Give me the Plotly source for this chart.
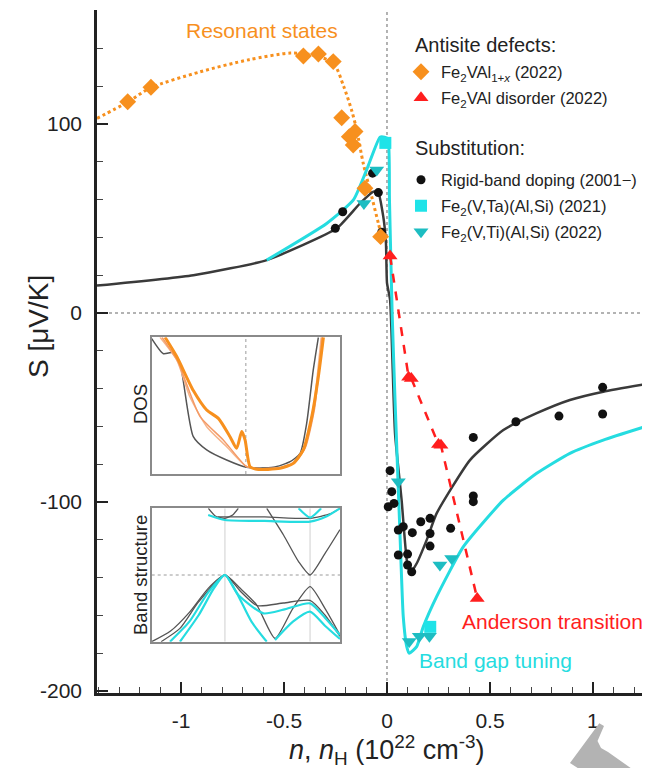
import plotly.graph_objects as go

FONT = "Liberation Sans, Arial, sans-serif"
ORANGE = "#F7901E"
RED = "#FF1E1E"
CYAN = "#1FE3E8"
CYAN_LINE = "#25DCE0"
TEAL = "#1DBDC2"
BLACK = "#111111"

# ---------------- data ----------------
# Fe2VAl1+x (2022)
orange_x = [-1.259, -1.146, -0.406, -0.333, -0.261, -0.220, -0.183, -0.164, -0.155, -0.107, -0.031]
orange_y = [111.8, 119.4, 136.0, 137.0, 133.0, 103.3, 93.3, 88.9, 96.0, 66.0, 40.4]
# resonant-states guide line
res_x = [-1.408, -1.26, -1.15, -0.91, -0.67, -0.47, -0.36, -0.26, -0.21, -0.171, -0.147, -0.115, -0.074, -0.042, -0.026]
res_y = [103.0, 111.5, 119.0, 127.5, 134.0, 137.5, 136.5, 132.0, 119.8, 107.0, 96.8, 79.0, 61.5, 47.5, 40.4]

# Fe2VAl disorder (2022)
red_x = [0.015, 0.105, 0.118, 0.250, 0.262, 0.438]
red_y = [30.2, -34.0, -34.6, -69.5, -70.0, -151.0]

# Rigid-band doping (2001-)
black_x = [-0.251, -0.215, -0.070, -0.042, -0.026,
           0.015, 0.023, 0.006, 0.034, 0.079, 0.123, 0.055, 0.055, 0.100, 0.100, 0.120,
           0.164, 0.209, 0.209, 0.209, 0.309, 0.419, 0.419, 0.419, 0.626, 0.835, 1.047, 1.047]
black_y = [44.8, 53.6, 74.0, 63.7, 42.7,
           -83.4, -94.5, -102.5, -100.7, -113.0, -116.2, -114.8, -128.0, -127.5, -133.3, -136.9,
           -110.4, -108.6, -116.6, -123.3, -113.9, -65.8, -96.8, -99.8, -57.5, -54.5, -39.3, -53.4]
# rigid-band model curve
rb_x = [-1.408, -0.94, -0.584, -0.244, -0.131, -0.066, -0.044, -0.018, -0.005, 0.0, 0.015, 0.039,
        0.071, 0.096, 0.112, 0.144, 0.193, 0.241, 0.403, 0.565, 0.727, 0.888, 1.05, 1.277]
rb_y = [14.5, 20.0, 28.0, 44.8, 58.0, 64.2, 64.2, 51.0, 37.0, 16.0, 6.9, -63.5,
        -99.0, -130.7, -137.6, -132.5, -120.0, -106.0, -77.8, -61.9, -53.0, -46.0, -41.6, -37.2]

# Fe2(V,Ta)(Al,Si) (2021)
sq_x = [-0.008, 0.210]
sq_y = [90.0, -166.0]
# Fe2(V,Ti)(Al,Si) (2022)
tri_x = [-0.050, -0.112, 0.055, 0.257, 0.314, 0.108, 0.157, 0.206]
tri_y = [75.7, 58.0, -89.2, -133.3, -129.8, -173.8, -171.0, -171.0]
# band-gap tuning curve
bg_x = [-0.584, -0.293, -0.163, -0.099, -0.034, -0.012, 0.005, 0.012, 0.025, 0.039, 0.063, 0.079,
        0.096, 0.108, 0.144, 0.176, 0.241, 0.371, 0.565, 0.727, 0.888, 1.05, 1.277]
bg_y = [28.0, 47.4, 59.8, 75.7, 93.0, 93.0, 92.0, 60.0, 0.0, -46.0, -116.6, -160.6,
        -176.5, -180.0, -176.5, -166.0, -150.0, -123.6, -99.0, -84.8, -74.2, -67.2, -59.3]

# inset: DOS (arbitrary units 0..1)
dos_black_x = [0, 0.062, 0.115, 0.15, 0.221, 0.292, 0.398, 0.504, 0.646, 0.735, 0.788, 0.823, 0.858, 0.885]
dos_black_y = [0.99, 0.88, 0.89, 0.81, 0.273, 0.176, 0.102, 0.049, 0.049, 0.09, 0.151, 0.371, 0.761, 1.0]
dos_l1_x = [0.044, 0.133, 0.204, 0.292, 0.398, 0.504, 0.56, 0.68, 0.76, 0.81, 0.86, 0.9]
dos_l1_y = [1.0, 0.834, 0.561, 0.346, 0.2, 0.054, 0.04, 0.045, 0.09, 0.2, 0.5, 1.0]
dos_l2_x = [0.055, 0.14, 0.177, 0.257, 0.38, 0.504, 0.56, 0.68, 0.76, 0.815, 0.865, 0.905]
dos_l2_y = [1.0, 0.82, 0.688, 0.42, 0.249, 0.054, 0.04, 0.045, 0.085, 0.19, 0.48, 1.0]
dos_or_x = [0.071, 0.133, 0.221, 0.292, 0.354, 0.416, 0.451, 0.478, 0.496, 0.522, 0.558, 0.681, 0.752, 0.805, 0.85, 0.885, 0.912]
dos_or_y = [1.0, 0.859, 0.61, 0.468, 0.407, 0.273, 0.188, 0.31, 0.249, 0.054, 0.034, 0.041, 0.078, 0.176, 0.42, 0.712, 1.0]

# inset: band structure (arbitrary units 0..1)
bs_black = [
    ([0, 0.1, 0.2, 0.3, 0.389, 0.47, 0.558, 0.655, 0.75, 0.841, 0.92, 1.0],
     [0, 0.08, 0.22, 0.4, 0.5, 0.4, 0.275, 0.025, 0.25, 0.4125, 0.25, 0.05]),
    ([0.05, 0.15, 0.25, 0.389, 0.47, 0.56, 0.7, 0.841, 0.92, 1.0],
     [0, 0.1, 0.3, 0.5, 0.38, 0.27, 0.29, 0.31, 0.2, 0.04]),
    ([0.611, 0.7, 0.78, 0.841, 0.92, 1.0],
     [1.0, 0.8, 0.6, 0.5, 0.66, 0.84]),
    ([0.301, 0.34, 0.389, 0.43, 0.46],
     [1.0, 0.94, 0.925, 0.95, 1.0]),
    ([0.35, 0.6, 0.841, 0.95, 1.0],
     [0.935, 0.935, 0.925, 0.96, 1.0]),
]
bs_cyan = [
    ([0.097, 0.2, 0.3, 0.389, 0.45, 0.53, 0.611],
     [0, 0.15, 0.37, 0.5, 0.37, 0.15, 0]),
    ([0.15, 0.25, 0.33, 0.389, 0.46, 0.593, 0.7, 0.841, 0.92, 1.0],
     [0, 0.2, 0.4, 0.5, 0.35, 0.2125, 0.24, 0.2875, 0.18, 0.05]),
    ([0.655, 0.75, 0.841, 0.92, 1.0],
     [0.0125, 0.15, 0.225, 0.12, 0.02]),
    ([0.3, 0.389, 0.6, 0.841, 0.93, 1.0],
     [0.95, 0.9125, 0.905, 0.9, 0.94, 1.0]),
    ([0.78, 0.841, 0.9],
     [1.0, 0.93, 1.0]),
]

# ---------------- figure ----------------
# the page body has an 8 px margin; the figure is sized so the plot lands at
# page pixels x 97..650, y 10..693
BODY = 8
W, H = 650 - BODY, 776 - 2 * BODY
PL, PT, PR, PB = 97, 10, 650, 693          # plot box in page pixels
ML, MT = PL - BODY, PT - BODY
MR = W - (PR - BODY)
MB = H - (PB - BODY)
PW, PH = PR - PL, PB - PT


def px(xp):
    return (xp - PL) / PW


def py(yp):
    return (PB - yp) / PH


fig = go.Figure()

# guide curves
fig.add_trace(go.Scatter(x=res_x, y=res_y, mode="lines", showlegend=False,
                         line=dict(color=ORANGE, width=3, dash="dot", shape="spline", smoothing=0.8)))
fig.add_trace(go.Scatter(x=rb_x, y=rb_y, mode="lines", showlegend=False,
                         line=dict(color="#3a3a3a", width=2.5, shape="spline", smoothing=0.5)))
fig.add_trace(go.Scatter(x=bg_x, y=bg_y, mode="lines", showlegend=False,
                         line=dict(color=CYAN_LINE, width=3, shape="spline", smoothing=0.5)))
fig.add_trace(go.Scatter(x=red_x, y=red_y, mode="lines", showlegend=False,
                         line=dict(color=RED, width=2.5, dash="dash")))

# data markers
fig.add_trace(go.Scatter(x=black_x, y=black_y, mode="markers", name="Rigid-band doping (2001−)",
                         legend="legend3",
                         marker=dict(symbol="circle", size=9, color=BLACK)))
fig.add_trace(go.Scatter(x=orange_x, y=orange_y, mode="markers", name="Fe<sub>2</sub>VAl<sub>1+<i>x</i></sub> (2022)",
                         legend="legend",
                         marker=dict(symbol="diamond", size=13, color=ORANGE)))
fig.add_trace(go.Scatter(x=red_x, y=red_y, mode="markers", name="Fe<sub>2</sub>VAl disorder (2022)",
                         legend="legend2",
                         marker=dict(symbol="triangle-up", size=13, color=RED)))
fig.add_trace(go.Scatter(x=sq_x, y=sq_y, mode="markers", name="Fe<sub>2</sub>(V,Ta)(Al,Si) (2021)",
                         legend="legend4",
                         marker=dict(symbol="square", size=12, color=CYAN)))
fig.add_trace(go.Scatter(x=tri_x, y=tri_y, mode="markers", name="Fe<sub>2</sub>(V,Ti)(Al,Si) (2022)",
                         legend="legend5",
                         marker=dict(symbol="triangle-down", size=13, color=TEAL)))

# inset DOS
for xs, ys, col, wd in [(dos_black_x, dos_black_y, "#555555", 1.5),
                        (dos_l1_x, dos_l1_y, "#F6B48A", 1.5),
                        (dos_l2_x, dos_l2_y, "#F49A66", 1.5),
                        (dos_or_x, dos_or_y, ORANGE, 3)]:
    fig.add_trace(go.Scatter(x=xs, y=ys, xaxis="x3", yaxis="y3", mode="lines", showlegend=False,
                             line=dict(color=col, width=wd, shape="spline", smoothing=0.6)))
# inset band structure
for xs, ys in bs_black:
    fig.add_trace(go.Scatter(x=xs, y=ys, xaxis="x4", yaxis="y4", mode="lines", showlegend=False,
                             line=dict(color="#555555", width=1.3, shape="spline", smoothing=0.6)))
for xs, ys in bs_cyan:
    fig.add_trace(go.Scatter(x=xs, y=ys, xaxis="x4", yaxis="y4", mode="lines", showlegend=False,
                             line=dict(color=CYAN_LINE, width=2.2, shape="spline", smoothing=0.6)))

tickfont = dict(family=FONT, size=21, color="#222222")
inset_ax = dict(range=[0, 1], showgrid=False, zeroline=False, automargin=False,
                showticklabels=False, ticks="", showline=True, mirror=True,
                linecolor="#8a8a8a", linewidth=1.5)


def leg(yp):
    return dict(x=px(401), y=py(yp), xanchor="left", yanchor="middle", bgcolor="rgba(0,0,0,0)",
                font=dict(family=FONT, size=16.5, color="#222222"), itemwidth=30)


fig.update_layout(
    template="none",
    width=W, height=H, autosize=False,
    margin=dict(l=ML, r=MR, t=MT, b=MB, pad=0, autoexpand=False),
    paper_bgcolor="white", plot_bgcolor="white",
    font=dict(family=FONT, color="#222222"),
    xaxis=dict(range=[-1.408, 1.277], showgrid=False, zeroline=False, automargin=False,
               showline=True, linewidth=2.5, linecolor="#222222",
               tickmode="array", tickvals=[-1, -0.5, 0, 0.5, 1], ticktext=["-1", "-0.5", "0", "0.5", "1"],
               ticks="inside", ticklen=11, tickwidth=2, tickcolor="#222222",
               minor=dict(tickmode="linear", tick0=0, dtick=0.1, ticks="inside", ticklen=6,
                          tickwidth=1.3, tickcolor="#444444", showgrid=False),
               tickfont=tickfont, ticklabelstandoff=7),
    yaxis=dict(range=[-201, 160.3], showgrid=False, zeroline=False, automargin=False,
               showline=True, linewidth=2.5, linecolor="#222222",
               tickmode="array", tickvals=[-200, -100, 0, 100], ticktext=["-200", "-100", "0", "100"],
               ticks="inside", ticklen=11, tickwidth=2, tickcolor="#222222",
               minor=dict(tickmode="linear", tick0=0, dtick=20, ticks="inside", ticklen=6,
                          tickwidth=1.3, tickcolor="#444444", showgrid=False),
               tickfont=tickfont, ticklabelstandoff=8),
    xaxis3=dict(domain=[px(151.7), px(340)], anchor="y3", **inset_ax),
    yaxis3=dict(domain=[py(474), py(337.3)], anchor="x3", **inset_ax),
    xaxis4=dict(domain=[px(151.7), px(340)], anchor="y4", **inset_ax),
    yaxis4=dict(domain=[py(641.7), py(508.3)], anchor="x4", **inset_ax),
    legend=leg(72), legend2=leg(98), legend3=leg(180), legend4=leg(206), legend5=leg(232),
)

# legend group headers
for txt, yp in [("Antisite defects:", 45), ("Substitution:", 148)]:
    fig.add_annotation(x=px(413), y=py(yp), xref="paper", yref="paper", text=txt, showarrow=False,
                       font=dict(family=FONT, size=20, color="#222222"), xanchor="left", yanchor="middle")

# reference lines
fig.add_shape(type="line", xref="x", yref="paper", x0=0, x1=0, y0=0, y1=1, layer="below",
              line=dict(color="#9a9a9a", width=1.5, dash="dot"))
fig.add_shape(type="line", xref="paper", yref="y", x0=0, x1=1, y0=0, y1=0, layer="below",
              line=dict(color="#9a9a9a", width=1.5, dash="dot"))
# inset guide lines
fig.add_shape(type="line", xref="x3", yref="y3", x0=0.5, x1=0.5, y0=0, y1=1, layer="below",
              line=dict(color="#9a9a9a", width=1, dash="dot"))
for gx in (0.389, 0.841):
    fig.add_shape(type="line", xref="x4", yref="y4", x0=gx, x1=gx, y0=0, y1=1, layer="below",
                  line=dict(color="#cfcfcf", width=1))
fig.add_shape(type="line", xref="x4", yref="y4", x0=0, x1=1, y0=0.5, y1=0.5, layer="below",
              line=dict(color="#9a9a9a", width=1, dash="dot"))

# decorative grey arrow at bottom right
pts = [(599.3, 723.3), (604, 726), (597.5, 741), (601, 748), (608, 752), (642, 776), (590, 776), (570, 763)]
path = "M " + " L ".join(f"{px(a):.4f},{py(b):.4f}" for a, b in pts) + " Z"
fig.add_shape(type="path", xref="paper", yref="paper", path=path, fillcolor="#b3b3b3",
              line=dict(width=0), layer="above")

# annotations
fig.add_annotation(x=-0.609, y=149.2, xref="x", yref="y", text="Resonant states", showarrow=False,
                   font=dict(family=FONT, size=21, color=ORANGE), xanchor="center", yanchor="middle")
fig.add_annotation(x=0.354, y=-163.0, xref="x", yref="y", text="Anderson transition", showarrow=False,
                   font=dict(family=FONT, size=21, color=RED), xanchor="left", yanchor="middle")
fig.add_annotation(x=0.146, y=-183.6, xref="x", yref="y", text="Band gap tuning", showarrow=False,
                   font=dict(family=FONT, size=21, color=CYAN_LINE), xanchor="left", yanchor="middle")
# axis titles
fig.add_annotation(x=px(387), y=py(750), xref="paper", yref="paper",
                   text="<i>n</i>, <i>n</i><sub>H</sub> (10<sup>22</sup> cm<sup>-3</sup>)", showarrow=False,
                   font=dict(family=FONT, size=27, color="#222222"), xanchor="center", yanchor="middle")
fig.add_annotation(x=px(38), y=py(327), xref="paper", yref="paper", text="S [μV/K]", showarrow=False,
                   textangle=-90, font=dict(family=FONT, size=28, color="#222222"),
                   xanchor="center", yanchor="middle")
# inset labels
fig.add_annotation(x=px(140), y=py(404), xref="paper", yref="paper", text="DOS", showarrow=False,
                   textangle=-90, font=dict(family=FONT, size=18.5, color="#222222"),
                   xanchor="center", yanchor="middle")
fig.add_annotation(x=px(140), y=py(575), xref="paper", yref="paper", text="Band structure", showarrow=False,
                   textangle=-90, font=dict(family=FONT, size=18.5, color="#222222"),
                   xanchor="center", yanchor="middle")

fig.write_html("out.html")
